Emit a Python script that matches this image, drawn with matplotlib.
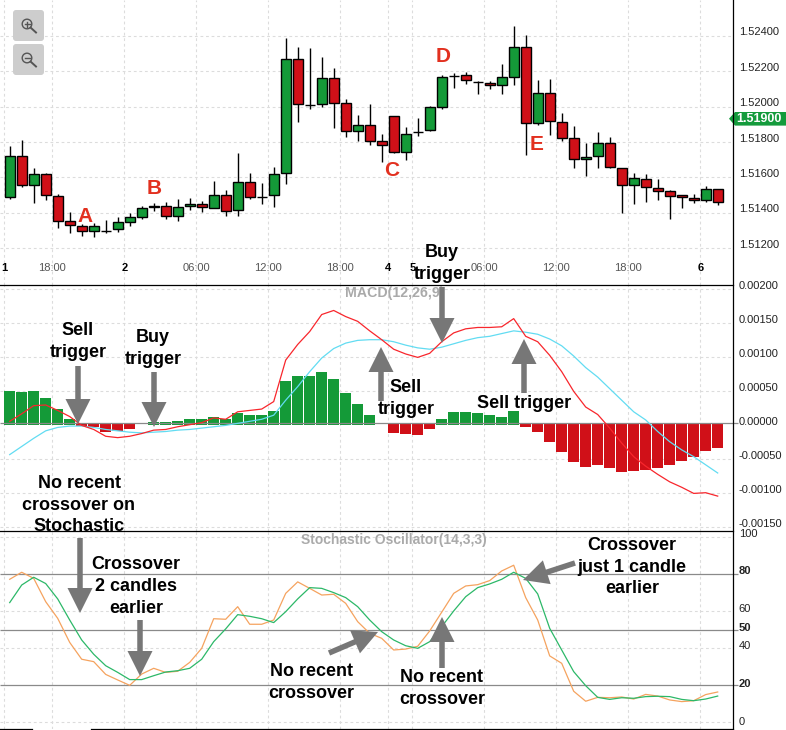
import matplotlib
matplotlib.use("Agg")
import matplotlib.pyplot as plt
from matplotlib.patches import FancyArrow, FancyBboxPatch, Rectangle, Polygon, Circle

plt.rcParams['font.family'] = ['Liberation Sans', 'DejaVu Sans']

opens = [1.51492,1.51719,1.51555,1.51618,1.51493,1.51352,1.51324,1.51296,1.51299,1.51307,
         1.51347,1.51375,1.51435,1.51437,1.51381,1.51437,1.51448,1.51426,1.51499,1.51414,
         1.51572,1.51491,1.51499,1.51623,1.52267,1.52009,1.52013,1.52159,1.52018,1.51860,
         1.51894,1.51804,1.51945,1.51742,1.51856,1.51866,1.51996,1.52174,1.52176,1.52140,
         1.52131,1.52120,1.52165,1.52334,1.51905,1.52075,1.51911,1.51821,1.51702,1.51719,
         1.51793,1.51651,1.51556,1.51589,1.51539,1.51522,1.51499,1.51482,1.51471,1.51533]
closes = [1.51719,1.51555,1.51618,1.51499,1.51352,1.51330,1.51296,1.51324,1.51300,1.51347,
          1.51375,1.51426,1.51436,1.51381,1.51431,1.51448,1.51431,1.51499,1.51409,1.51572,
          1.51488,1.51492,1.51618,1.52267,1.52013,1.52010,1.52159,1.52018,1.51860,1.51894,
          1.51804,1.51781,1.51742,1.51843,1.51857,1.51996,1.52165,1.52175,1.52148,1.52141,
          1.52120,1.52165,1.52334,1.51905,1.52075,1.51917,1.51821,1.51702,1.51714,1.51793,
          1.51657,1.51556,1.51595,1.51544,1.51522,1.51493,1.51488,1.51471,1.51533,1.51460]
highs = [1.51777,1.51809,1.51651,1.51625,1.51505,1.51403,1.51335,1.51341,1.51358,1.51375,
         1.51398,1.51437,1.51454,1.51460,1.51477,1.51482,1.51465,1.51578,1.51527,1.51736,
         1.51623,1.51567,1.51657,1.52385,1.52334,1.52329,1.52278,1.52216,1.52041,1.51951,
         1.52013,1.51843,1.51945,1.51883,1.51934,1.52001,1.52176,1.52188,1.52193,1.52142,
         1.52142,1.52238,1.52453,1.52402,1.52148,1.52154,1.51962,1.51888,1.51793,1.51855,
         1.51826,1.51651,1.51623,1.51618,1.51589,1.51527,1.51499,1.51505,1.51550,1.51533]
lows = [1.51480,1.51544,1.51454,1.51471,1.51313,1.51285,1.51268,1.51262,1.51285,1.51290,
        1.51324,1.51364,1.51411,1.51364,1.51352,1.51414,1.51403,1.51426,1.51381,1.51381,
        1.51477,1.51448,1.51431,1.51561,1.51911,1.51984,1.51996,1.51877,1.51826,1.51808,
        1.51781,1.51685,1.51736,1.51697,1.51832,1.51860,1.51984,1.52103,1.52125,1.52069,
        1.52097,1.52069,1.52120,1.51725,1.51894,1.51838,1.51804,1.51651,1.51606,1.51651,
        1.51651,1.51398,1.51448,1.51460,1.51471,1.51364,1.51426,1.51454,1.51461,1.51443]

macd_hist = [47,46,47,38,21,7,-4,-5,-13,-11,-8,-1,2,2,3,6,6,10,6,15,13,12,18,62,69,69,75,65,44,29,
             12,-1,-14,-16,-17,-8,7,16,16,15,12,9,18,-6,-12,-27,-42,-57,-64,-61,-65,-72,-70,-69,
             -66,-61,-56,-50,-40,-36]
macd_line = [3,14,26,27,19,10,-3,-9,-19,-21,-19,-15,-10,-9,-5,-2,1,8,6,17,19,21,32,93,116,135,160,
             166,157,150,136,123,109,102,97,103,120,133,139,141,141,142,154,128,120,100,76,47,24,
             13,-7,-29,-49,-63,-75,-86,-94,-103,-102,-107]
macd_signal = [-46,-34,-22,-11,-6,-4,-4,-6,-9,-11,-13,-14,-13,-12,-10,-9,-7,-5,-3,0,3,6,12,34,54,76,
               96,110,118,122,123,123,120,115,111,109,112,117,122,126,128,132,136,134,131,124,114,
               99,82,68,51,34,17,5,-12,-27,-39,-49,-61,-73]
stoch_k = [77.3,81.1,77.8,65.2,56.2,43.2,34.1,32.8,25.9,22.9,20,26.1,29.2,27.0,27.6,32.4,40,56,55.7,
           62.5,53,53,55.3,69.7,75.9,72.4,68.8,69.2,64.3,54.4,48.1,45.4,39.1,39.6,41.1,49.4,59.5,
           69.7,73.7,74.4,76.6,81.8,84.9,67.4,55.3,35.9,31.9,16.8,11.4,13.5,13.3,13.7,12.6,15.1,
           14.2,12.1,11.2,11.7,15,16.4]
stoch_d = [64.7,74.2,78.4,75,66.7,55.3,44.5,36.8,30.6,27,23.1,23.1,25.2,27.2,27.9,29.2,34.1,43.6,50.5,
           58.2,57.3,56,53.9,59.8,66.7,72.8,72.4,70.1,67.4,62.5,55.3,49,44.5,41.4,40,43.6,51.7,60.2,
           67.9,72.8,74.8,77.3,81.1,77.8,69.4,50.8,39.1,27.4,19.8,13.5,12.4,13.3,13,13.9,14.1,13.9,
           12.4,11.7,12.6,14.2]

time_ticks = [-0.45,3.55,9.55,15.55,21.55,27.55,31.55,33.55,39.55,45.55,51.55,57.55]
time_labels = ['1','18:00','2','06:00','12:00','18:00','4','5','06:00','12:00','18:00','6']
day_labels = {'1','2','4','5','6'}
price_levels = [1.524,1.522,1.520,1.518,1.516,1.514,1.512]
macd_levels = [0.002,0.0015,0.001,0.0005,0.0,-0.0005,-0.001,-0.0015]
stoch_levels = [100,80,60,50,40,20,0]
stoch_lines = [80,50,20]

GREEN, RED = '#149a38', '#d01018'
W, H = 786, 730
fig = plt.figure(figsize=(W/100, H/100), dpi=100, facecolor='white')

def panel(top, bottom):
    ax = fig.add_axes([0, 1-bottom/H, 733.3/W, (bottom-top)/H])
    ax.set_xlim(-0.808, 60.3)
    for s in ax.spines.values():
        s.set_visible(False)
    ax.set_xticks(time_ticks)
    ax.grid(axis='x', color='#dcdcdc', ls=(0, (2.5, 2.5)), lw=0.8)
    ax.grid(axis='y', which='minor', color='#dcdcdc', ls=(0, (2.5, 2.5)), lw=0.8)
    ax.set_axisbelow(True)
    ax.yaxis.tick_right()
    ax.tick_params(axis='both', which='both', length=0)
    ax.tick_params(axis='y', which='major', labelsize=8, pad=4, labelcolor='#222222')
    ax.tick_params(axis='x', labelbottom=False)
    return ax

# price panel
ax1 = panel(0, 284.5)
ax1.set_ylim(1.509955, 1.526013)
ax1.set_yticks(price_levels, minor=True)
ax1.set_yticks([p + 0.00025 for p in price_levels], [f'{p:.5f}' for p in price_levels])
ax1.tick_params(axis='x', labelbottom=True, pad=-15.5, labelsize=8, labelcolor='#555555')
ax1.set_xticklabels(time_labels)
for t in ax1.get_xticklabels():
    if t.get_text() in day_labels:
        t.set_fontweight('bold')
        t.set_color('black')
for i, (o, c, h, l) in enumerate(zip(opens, closes, highs, lows)):
    ax1.vlines(i, l, h, color='black', lw=1.0, zorder=2)
    col = GREEN if c >= o else RED
    ax1.add_patch(Rectangle((i-0.42, min(o, c)), 0.84, abs(c-o), facecolor=col,
                            edgecolor='black', lw=1.0, zorder=3))

# MACD panel
ax2 = panel(284.5, 531)
ax2.set_ylim(-0.001583, 0.0020417)
ax2.set_yticks([m - 0.000025 for m in macd_levels if m != 0], minor=True)
ax2.set_yticks([m + 0.000034 for m in macd_levels], [f'{m:.5f}' for m in macd_levels])
for i, v in enumerate(macd_hist):
    val = v * 1e-5
    if val >= 0:
        ax2.bar(i, val + 0.00002, bottom=-0.00002, width=0.92, color=GREEN, zorder=2)
    else:
        ax2.bar(i, val, width=0.92, color=RED, zorder=2)
ax2.hlines(0, -0.808, 60.69, color='#8a8a8a', lw=0.9, clip_on=False, zorder=3)
xs = list(range(len(macd_line)))
ax2.plot(xs, [v*1e-5 for v in macd_signal], color='#62dcf2', lw=0.9, zorder=4)
ax2.plot(xs, [v*1e-5 for v in macd_line], color='#f8262c', lw=0.9, zorder=5)

# Stochastic panel
ax3 = panel(531, 729)
ax3.set_ylim(-3.6, 103.4)
ax3.set_yticks([s for s in stoch_levels if s not in stoch_lines], minor=True)
stoch_pos = {100:102.3, 80:82.3, 60:62, 50:51.5, 40:41.8, 20:21, 0:0.5}
ax3.set_yticks([stoch_pos[s] for s in stoch_levels], [str(s) for s in stoch_levels])
for t, s in zip(ax3.get_yticklabels(), stoch_levels):
    if s in stoch_lines:
        t.set_fontweight('bold')
ax3.hlines(stoch_lines, -0.808, 60.69, color='#8a8a8a', lw=0.9, clip_on=False, zorder=3)
ax3.plot(xs, stoch_k, color='#f5a35f', lw=0.9, zorder=4)
ax3.plot(xs, stoch_d, color='#2cb868', lw=0.9, zorder=5)

# overlay in pixel coordinates
ov = fig.add_axes([0, 0, 1, 1], zorder=10)
ov.set_xlim(0, W); ov.set_ylim(H, 0); ov.axis('off'); ov.patch.set_alpha(0)

for y in (284.5, 531):
    ov.plot([0, 733.3], [y, y], color='black', lw=0.9)
ov.plot([733.3, 733.3], [0, H], color='black', lw=0.9)
ov.plot([0, 32], [729.4, 729.4], color='black', lw=0.9)
ov.plot([91, 733.3], [729.4, 729.4], color='black', lw=0.9)

for y0 in (10, 44):
    ov.add_patch(FancyBboxPatch((15, y0+2), 27, 27, boxstyle='round,pad=2,rounding_size=3',
                                facecolor='#cdcdcd', edgecolor='none'))
    cx, cy = 27, y0+14
    ov.add_patch(Circle((cx, cy), 4.8, facecolor='none', edgecolor='#555555', lw=1.0))
    ov.plot([cx+3.6, cx+9], [cy+3.6, cy+8.5], color='#555555', lw=1.4)
    ov.plot([cx-2.5, cx+2.5], [cy, cy], color='#555555', lw=1.0)
    if y0 == 10:
        ov.plot([cx, cx], [cy-2.5, cy+2.5], color='#555555', lw=1.0)

ov.add_patch(Polygon([(729, 118.7), (735, 112), (786, 112), (786, 125.6), (735, 125.6)],
                     closed=True, facecolor='#149b3c', edgecolor='none'))
ov.text(759, 118.9, '1.51900', color='white', fontsize=9, fontweight='bold', ha='center', va='center')

for s, x, y in [('A', 85, 216), ('B', 154, 188), ('C', 391.7, 170), ('D', 442.7, 57), ('E', 536.7, 144)]:
    ov.text(x, y, s, color='#e2301f', fontsize=15, fontweight='bold', ha='center', va='center')

ov.text(395, 293, 'MACD(12,26,9)', color='#aaaaaa', fontsize=10.2, fontweight='bold', ha='center', va='center')
ov.text(393.5, 540, 'Stochastic Oscillator(14,3,3)', color='#aaaaaa', fontsize=10, fontweight='bold', ha='center', va='center')

notes = [('Sell\ntrigger', 78, 341.5), ('Buy\ntrigger', 153, 348.5),
         ('Buy\ntrigger', 442, 263.5), ('Sell\ntrigger', 406, 398.5),
         ('Sell trigger', 524, 403), ('No recent\ncrossover on\nStochastic', 79, 505),
         ('Crossover\n2 candles\nearlier', 136, 586.5), ('No recent\ncrossover', 311, 682.5),
         ('No recent\ncrossover', 442, 688.5), ('Crossover\njust 1 candle\nearlier', 632, 567)]
for s, x, y in notes:
    ov.text(x, y, s, color='black', fontsize=13, fontweight='bold', ha='center', va='center',
            linespacing=1.36, zorder=6)

arrows = [((78, 366), (78, 424)), ((154, 372), (154, 427)), ((381, 401), (381, 347)),
          ((442, 287), (442, 343)), ((524, 393), (524, 339)), ((80, 538), (80, 613)),
          ((140, 620), (140, 676)), ((329, 653), (378, 632)), ((442, 668), (442, 617)),
          ((575, 563), (523, 580))]
for (x0, y0), (x1, y1) in arrows:
    ov.add_patch(FancyArrow(x0, y0, x1-x0, y1-y0, width=5.5, head_width=25, head_length=25,
                            length_includes_head=True, facecolor='#777777', edgecolor='none', zorder=5))

fig.savefig('out.png', dpi=100)
